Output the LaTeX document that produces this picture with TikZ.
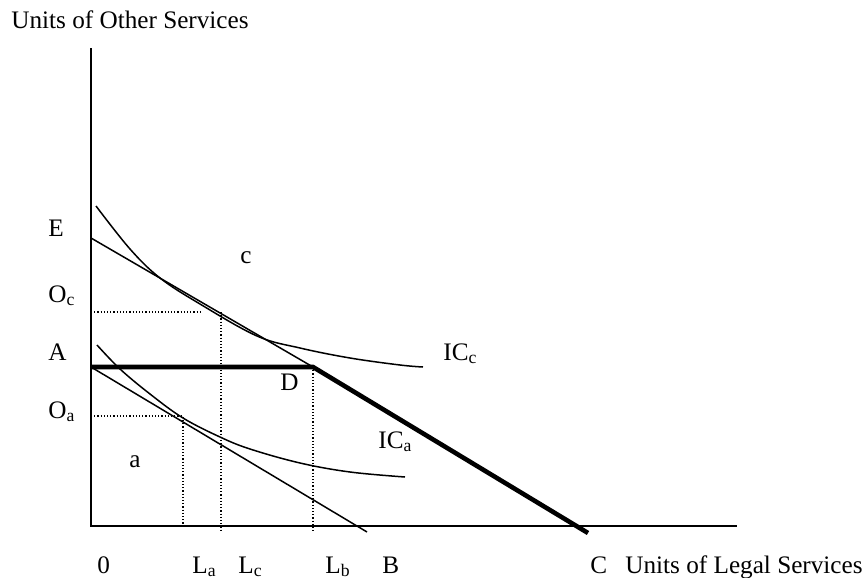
\documentclass[tikz,border=0pt]{standalone}
\usepackage{fontspec}
\setmainfont{Liberation Serif}
\begin{document}
\begin{tikzpicture}[x=.5pt, y=-.5pt, font=\fontsize{12.6}{14}\selectfont,
    lbl/.style={anchor=base west, inner sep=0pt},
    thinline/.style={line width=.75pt},
    budget/.style={line width=2.3pt},
    guide/.style={line width=.7pt, dash pattern=on .6pt off 1pt}]
\useasboundingbox (0,0) rectangle (868,578);
% axes
\coordinate (O) at (91,526);
\coordinate (Ytop) at (91,48);
\coordinate (Xend) at (737,526);
\draw[thinline] (Ytop)--(O)--(Xend);
\node[lbl] (ylab) at (11,28) {Units of Other Services};
\node[lbl] (xlab) at (625,573) {Units of Legal Services};

% budget lines
\coordinate (E) at (91,238);
\coordinate (A) at (91,367);
\coordinate (D) at (313,367);
\coordinate (B) at (367,532);
\coordinate (C) at (588,533);
\draw[thinline] (E)--(D);
\draw[thinline] (A)--(B);
\draw[budget] (A)--(D)--(C);

% indifference curves
\draw[thinline] plot[smooth, tension=.6] coordinates {(96,206) (130,249) (160,278) (200,304) (257,336) (300,348) (350,358) (400,365) (423,367)};
\draw[thinline] plot[smooth, tension=.6] coordinates {(97,345) (120,369) (150,394) (183,418) (220,437) (250,449) (300,463) (350,472) (405,477)};

% dotted guides
\coordinate (Oc) at (91,312);
\coordinate (Oa) at (91,416);
\coordinate (Lc) at (221,532);
\coordinate (La) at (183,526);
\coordinate (Lb) at (313,533);
\draw[guide] (Oc)--(200,312);
\draw[guide] (221,312)--(Lc);
\draw[guide] (Oa)--(183,416)--(La);
\draw[guide] (D)--(Lb);

% labels
\node[lbl] (lE) at (48,236) {E};
\node[lbl] (lOc) at (48,302) {O\textsubscript{c}};
\node[lbl] (lA) at (48,360) {A};
\node[lbl] (lOa) at (48,418) {O\textsubscript{a}};
\node[lbl] (lc) at (240,263) {c};
\node[lbl] (lD) at (280,390) {D};
\node[lbl] (la) at (129,467) {a};
\node[lbl] (lICc) at (443,360) {IC\textsubscript{c}};
\node[lbl] (lICa) at (378,448) {IC\textsubscript{a}};
\node[lbl] (l0) at (97,573) {0};
\node[lbl] (lLa) at (192,573) {L\textsubscript{a}};
\node[lbl] (lLc) at (238,573) {L\textsubscript{c}};
\node[lbl] (lLb) at (325,573) {L\textsubscript{b}};
\node[lbl] (lB) at (382,573) {B};
\node[lbl] (lC) at (590,573) {C};
\end{tikzpicture}
\end{document}
